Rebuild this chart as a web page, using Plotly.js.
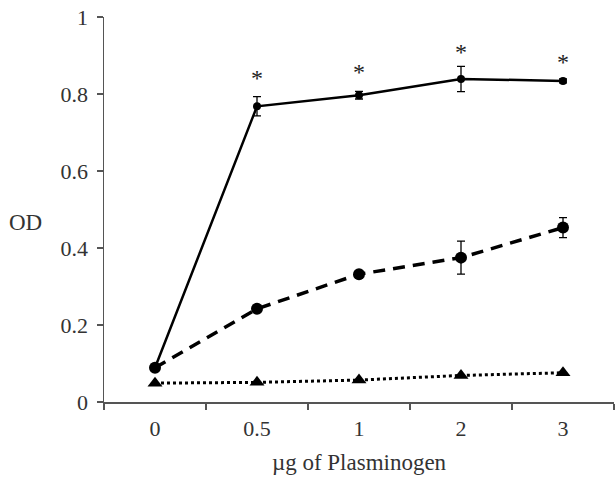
<!DOCTYPE html>
<html>
<head>
<meta charset="utf-8">
<script src="https://cdn.plot.ly/plotly-3.0.1.min.js"></script>
<style>html,body{margin:0;padding:0;background:#fff;}#chart{width:615px;height:477px;}</style>
</head>
<body>
<div id="chart"></div>
<script>
var doses = ["0", "0.5", "1", "2", "3"];
var solidValues = [0.089, 0.768, 0.797, 0.839, 0.834];
var solidErrors = [0, 0.025, 0.01, 0.033, 0.005];
var dashedValues = [0.089, 0.242, 0.332, 0.375, 0.453];
var dashedErrors = [0, 0, 0, 0.043, 0.026];
var dottedValues = [0.049, 0.051, 0.057, 0.069, 0.076];
var starDoses = ["0.5", "1", "2", "3"];
var starValues = [0.836, 0.852, 0.905, 0.878];

var serif = "'Liberation Serif', 'Times New Roman', serif";

var traces = [
  {
    x: doses, y: dottedValues, type: "scatter", mode: "lines+markers",
    line: {color: "#000", width: 3, dash: "dot"},
    marker: {symbol: "triangle-up", size: 13, color: "#000"},
    cliponaxis: false, hoverinfo: "none"
  },
  {
    x: doses, y: dashedValues, type: "scatter", mode: "lines+markers",
    line: {color: "#000", width: 3.5, dash: "12px,8px"},
    marker: {symbol: "circle", size: 12, color: "#000"},
    error_y: {type: "data", array: dashedErrors, visible: true, color: "#000", thickness: 1.3, width: 4},
    cliponaxis: false, hoverinfo: "none"
  },
  {
    x: doses, y: solidValues, type: "scatter", mode: "lines+markers",
    line: {color: "#000", width: 2.5},
    marker: {symbol: "circle", size: 8, color: "#000"},
    error_y: {type: "data", array: solidErrors, visible: true, color: "#000", thickness: 1.3, width: 4},
    cliponaxis: false, hoverinfo: "none"
  },
  {
    x: starDoses, y: starValues, type: "scatter", mode: "text",
    text: starDoses.map(function(){return "*";}),
    textposition: "middle center",
    textfont: {family: serif, size: 24, color: "#222"},
    cliponaxis: false, hoverinfo: "none"
  }
];

var layout = {
  width: 615, height: 477,
  margin: {l: 104, r: 1, t: 17, b: 75},
  paper_bgcolor: "#fff", plot_bgcolor: "#fff",
  showlegend: false,
  font: {family: serif, size: 22, color: "#333"},
  xaxis: {
    type: "category", categoryorder: "array", categoryarray: doses,
    range: [-0.5, 4.5], tickson: "boundaries",
    showline: true, linecolor: "#555", linewidth: 1.5,
    ticks: "outside", ticklen: 6, tickwidth: 1.5, tickcolor: "#555",
    showgrid: false, zeroline: false, ticklabelstandoff: 6,
    tickfont: {family: serif, size: 22, color: "#333"},
    title: {text: "\u00b5g of Plasminogen", font: {family: serif, size: 23, color: "#333"}, standoff: 14}
  },
  yaxis: {
    range: [0, 1], tickvals: [0, 0.2, 0.4, 0.6, 0.8, 1], ticktext: ["0", "0.2", "0.4", "0.6", "0.8", "1"],
    showline: true, linecolor: "#555", linewidth: 1.5,
    ticks: "outside", ticklen: 6, tickwidth: 1.5, tickcolor: "#555",
    showgrid: false, zeroline: false, ticklabelstandoff: 4,
    tickfont: {family: serif, size: 22, color: "#333"}
  },
  annotations: [
    {text: "OD", xref: "paper", yref: "paper", x: -0.153, y: 0.466, xanchor: "center", yanchor: "middle",
     showarrow: false, font: {family: serif, size: 23, color: "#333"}}
  ]
};

Plotly.newPlot("chart", traces, layout, {displayModeBar: false, staticPlot: true});
</script>
</body>
</html>
